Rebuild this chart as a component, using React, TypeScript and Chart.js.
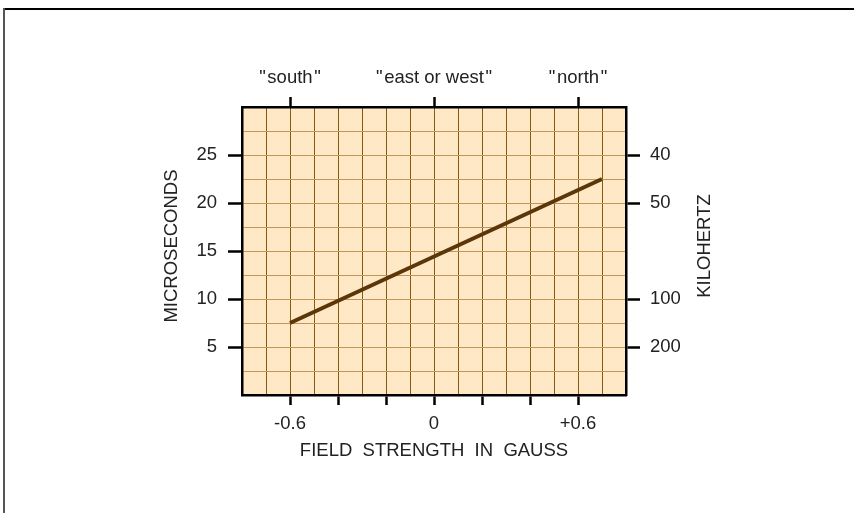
import React, { useEffect, useRef } from "react";
import { Chart, registerables } from "chart.js";

Chart.register(...registerables);

// Data
const fieldStrength = [-0.6, 0.7];
const microseconds = [7.5, 22.5];

const bottomTickValues = [-0.6, -0.4, -0.2, 0, 0.2, 0.4, 0.6];
const bottomLabelMap: Record<string, string> = { "-6": "-0.6", "0": "0", "6": "+0.6" };
const topTickValues = [-0.6, 0, 0.6];
const topLabels = ['"\u200Asouth\u200A"', '"\u200Aeast or west\u200A"', '"\u200Anorth\u200A"'];
const leftTickValues = [5, 10, 15, 20, 25];
const rightTickValues = [5, 10, 20, 25];
const rightLabels = ["200", "100", "50", "40"];

const FONT = "'Liberation Sans', Arial, sans-serif";
const FS = 18.5;

const key = (v: number) => String(Math.round(v * 10));

export default function App() {
  const ref = useRef<HTMLCanvasElement>(null);
  useEffect(() => {
    const canvas = ref.current!;
    const bgPlugin = {
      id: "bg",
      beforeDraw(chart: any) {
        const { ctx, chartArea: a } = chart;
        ctx.save();
        ctx.fillStyle = "#ffffff";
        ctx.fillRect(0, 0, chart.width, chart.height);
        ctx.fillStyle = "#ffe8c6";
        ctx.fillRect(a.left, a.top, a.right - a.left, a.bottom - a.top);
        ctx.restore();
      },
      afterDraw(chart: any) {
        const { ctx } = chart;
        ctx.save();
        // frame
        ctx.strokeStyle = "#000";
        ctx.lineWidth = 2;
        ctx.beginPath();
        ctx.moveTo(3, 9);
        ctx.lineTo(chart.width, 9);
        ctx.stroke();
        ctx.strokeStyle = "#555";
        ctx.lineWidth = 2;
        ctx.beginPath();
        ctx.moveTo(4, 8);
        ctx.lineTo(4, chart.height);
        ctx.stroke();
        // titles
        ctx.fillStyle = "#222";
        ctx.font = `${FS}px ${FONT}`;
        ctx.textAlign = "center";
        ctx.textBaseline = "middle";
        ctx.fillText("FIELD  STRENGTH  IN  GAUSS", 434, 451);
        ctx.save();
        ctx.translate(172, 246);
        ctx.rotate(-Math.PI / 2);
        ctx.fillText("MICROSECONDS", 0, 0);
        ctx.restore();
        ctx.save();
        ctx.translate(705, 246);
        ctx.rotate(-Math.PI / 2);
        ctx.fillText("KILOHERTZ", 0, 0);
        ctx.restore();
        ctx.restore();
      },
    };

    const chart = new Chart(canvas, {
      type: "line",
      data: {
        datasets: [
          {
            data: fieldStrength.map((x, i) => ({ x, y: microseconds[i] })),
            borderColor: "#5a3608",
            borderWidth: 4,
            pointRadius: 0,
            borderCapStyle: "butt",
            xAxisID: "x",
            yAxisID: "y",
          },
        ],
      },
      options: {
        animation: false,
        responsive: false,
        maintainAspectRatio: false,
        layout: { padding: 0 },
        plugins: { legend: { display: false }, tooltip: { enabled: false } },
        scales: {
          x: {
            type: "linear",
            position: "bottom",
            min: -0.8,
            max: 0.8,
            ticks: {
              stepSize: 0.1,
              autoSkip: false,
              maxRotation: 0,
              padding: 8,
              color: "#222",
              font: { family: FONT, size: FS },
              callback: (v: any) => bottomLabelMap[key(Number(v))] ?? "",
            },
            grid: {
              color: "#8a5a12",
              lineWidth: 1,
              tickLength: 10,
              tickWidth: 2.5,
              tickColor: (c: any) => {
                const v = c.tick ? c.tick.value : 0;
                return bottomTickValues.some((t) => key(t) === key(v)) ? "#000" : "rgba(0,0,0,0)";
              },
            },
            border: { display: true, color: "#000", width: 2.5 },
            afterFit: (s: any) => {
              s.height = 118;
            },
          },
          x2: {
            type: "linear",
            position: "top",
            min: -0.8,
            max: 0.8,
            afterBuildTicks: (s: any) => {
              s.ticks = topTickValues.map((value) => ({ value }));
            },
            ticks: {
              autoSkip: false,
              maxRotation: 0,
              padding: 8,
              color: "#222",
              font: { family: FONT, size: FS },
              callback: (v: any) => {
                const i = topTickValues.findIndex((t) => key(t) === key(Number(v)));
                return i >= 0 ? topLabels[i] : "";
              },
            },
            grid: {
              drawOnChartArea: false,
              tickLength: 10,
              tickWidth: 2.5,
              tickColor: "#000",
            },
            border: { display: true, color: "#000", width: 2.5 },
            afterFit: (s: any) => {
              s.height = 107;
            },
          },
          y: {
            type: "linear",
            position: "left",
            min: 0,
            max: 30,
            ticks: {
              stepSize: 2.5,
              autoSkip: false,
              padding: 11,
              color: "#222",
              font: { family: FONT, size: FS },
              callback: (v: any) => {
                const n = Number(v);
                return leftTickValues.includes(n) ? String(n) : "";
              },
            },
            grid: {
              color: "#c4955a",
              lineWidth: 1,
              tickLength: 14,
              tickWidth: 2.5,
              tickColor: (c: any) => {
                const v = c.tick ? c.tick.value : 0;
                return leftTickValues.includes(v) ? "#000" : "rgba(0,0,0,0)";
              },
            },
            border: { display: true, color: "#000", width: 2.5 },
            afterFit: (s: any) => {
              s.width = 242;
            },
          },
          y2: {
            type: "linear",
            position: "right",
            min: 0,
            max: 30,
            afterBuildTicks: (s: any) => {
              s.ticks = rightTickValues.map((value) => ({ value }));
            },
            ticks: {
              autoSkip: false,
              padding: 10,
              color: "#222",
              font: { family: FONT, size: FS },
              callback: (v: any) => {
                const i = rightTickValues.indexOf(Number(v));
                return i >= 0 ? rightLabels[i] : "";
              },
            },
            grid: {
              drawOnChartArea: false,
              tickLength: 14,
              tickWidth: 2.5,
              tickColor: "#000",
            },
            border: { display: true, color: "#000", width: 2.5 },
            afterFit: (s: any) => {
              s.width = 228;
            },
          },
        },
      } as any,
      plugins: [bgPlugin],
    });
    return () => chart.destroy();
  }, []);

  return (
    <div style={{ position: "fixed", left: 0, top: 0, width: 854, height: 513, background: "#fff" }}>
      <canvas ref={ref} width={854} height={513} style={{ display: "block", width: 854, height: 513 }} />
    </div>
  );
}
